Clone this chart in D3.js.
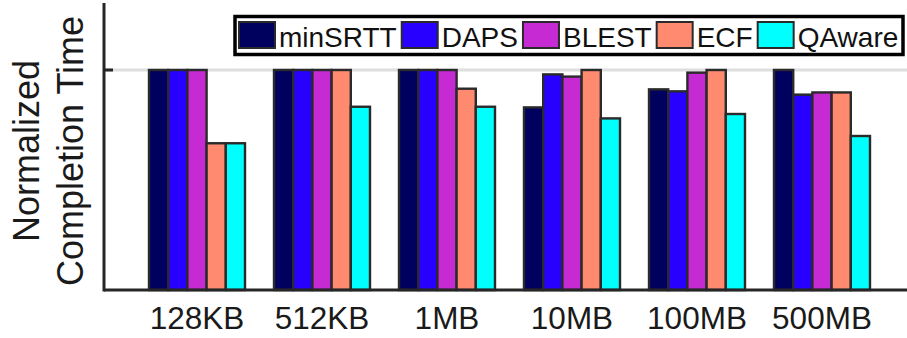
<!DOCTYPE html>
<html>
<head>
<meta charset="utf-8">
<script src="https://cdn.jsdelivr.net/npm/d3@7"></script>
<style>
  html, body { margin: 0; padding: 0; background: #fff; }
  svg { display: block; font-family: "Liberation Sans", Arial, Helvetica, sans-serif; }
</style>
</head>
<body>
<svg id="chart" width="907" height="338"></svg>
<script>
// File sizes on the x axis
const categories = ["128KB", "512KB", "1MB", "10MB", "100MB", "500MB"];
// Schedulers compared
const series = ["minSRTT", "DAPS", "BLEST", "ECF", "QAware"];
const colors = ["#00005f", "#2800ff", "#c52ad3", "#ff8a70", "#00ffff"];
// Normalized completion time per scheduler, one entry per file size
const minSRTT = [1.0, 1.0, 1.0, 0.83, 0.912, 1.0];
const DAPS    = [1.0, 1.0, 1.0, 0.98, 0.903, 0.888];
const BLEST   = [1.0, 1.0, 1.0, 0.97, 0.988, 0.898];
const ECF     = [0.667, 1.0, 0.915, 1.0, 1.0, 0.898];
const QAware  = [0.667, 0.833, 0.833, 0.78, 0.80, 0.70];
const yTicks = [1.0];
const yLabel = ["Normalized", "Completion Time"];

const values = { minSRTT, DAPS, BLEST, ECF, QAware };

const svg = d3.select("#chart");
const W = 907;

const x0 = d3.scaleBand().domain(categories).range([134.5, 884.5])
  .paddingInner(0.232).paddingOuter(0.116);
const x1 = d3.scaleBand().domain(series).range([0, x0.bandwidth()]);
const y = d3.scaleLinear().domain([0, 1.3]).range([290, 4]);
const color = d3.scaleOrdinal().domain(series).range(colors);

const axisX = 104;

// reference gridline at 1.0
svg.selectAll("line.grid").data(yTicks).join("line")
  .attr("class", "grid")
  .attr("x1", axisX + 2).attr("x2", W)
  .attr("y1", d => y(d)).attr("y2", d => y(d))
  .attr("stroke", "#dedede").attr("stroke-width", 3);

// bars
const groups = svg.selectAll("g.grp").data(categories).join("g")
  .attr("class", "grp")
  .attr("transform", d => `translate(${x0(d)},0)`);

groups.selectAll("rect").data((c, i) => series.map(s => ({ s, v: values[s][i] })))
  .join("rect")
  .attr("x", d => x1(d.s))
  .attr("width", x1.bandwidth())
  .attr("y", d => y(d.v))
  .attr("height", d => y(0) - y(d.v))
  .attr("fill", d => color(d.s))
  .attr("stroke", "#2a2a2a")
  .attr("stroke-width", 2.4);

// x axis baseline and labels
svg.append("line")
  .attr("x1", axisX).attr("x2", W)
  .attr("y1", y(0)).attr("y2", y(0))
  .attr("stroke", "#262626").attr("stroke-width", 3);

svg.selectAll("text.xlab").data(categories).join("text")
  .attr("class", "xlab")
  .attr("x", d => x0(d) + x0.bandwidth() / 2)
  .attr("y", 329)
  .attr("text-anchor", "middle")
  .attr("font-size", 31.5)
  .attr("fill", "#1a1a1a")
  .text(d => d);

// y axis line and tick
svg.append("line")
  .attr("x1", axisX).attr("x2", axisX)
  .attr("y1", y(1.3) - 1).attr("y2", y(0) + 1.5)
  .attr("stroke", "#262626").attr("stroke-width", 3);

svg.selectAll("line.ytick").data(yTicks).join("line")
  .attr("class", "ytick")
  .attr("x1", axisX).attr("x2", axisX + 9)
  .attr("y1", d => y(d)).attr("y2", d => y(d))
  .attr("stroke", "#262626").attr("stroke-width", 3);

// y axis title, two lines
svg.selectAll("text.ylab").data(yLabel).join("text")
  .attr("class", "ylab")
  .attr("transform", (d, i) => `translate(${39 + i * 44},151) rotate(-90)`)
  .attr("text-anchor", "middle")
  .attr("font-size", 36)
  .attr("fill", "#1a1a1a")
  .text(d => d);

// legend
const legend = svg.append("g");
legend.append("rect")
  .attr("x", 235).attr("y", 16.5)
  .attr("width", 668).attr("height", 38)
  .attr("fill", "#fff")
  .attr("stroke", "#000").attr("stroke-width", 3.5);

let lx = 239;
series.forEach(s => {
  legend.append("rect")
    .attr("x", lx).attr("y", 22)
    .attr("width", 36).attr("height", 26)
    .attr("fill", color(s))
    .attr("stroke", "#2a2a2a").attr("stroke-width", 2);
  const t = legend.append("text")
    .attr("x", lx + 40).attr("y", 47)
    .attr("font-size", 28)
    .attr("fill", "#111")
    .text(s);
  lx += 40 + t.node().getComputedTextLength() + 5;
});
</script>
</body>
</html>
